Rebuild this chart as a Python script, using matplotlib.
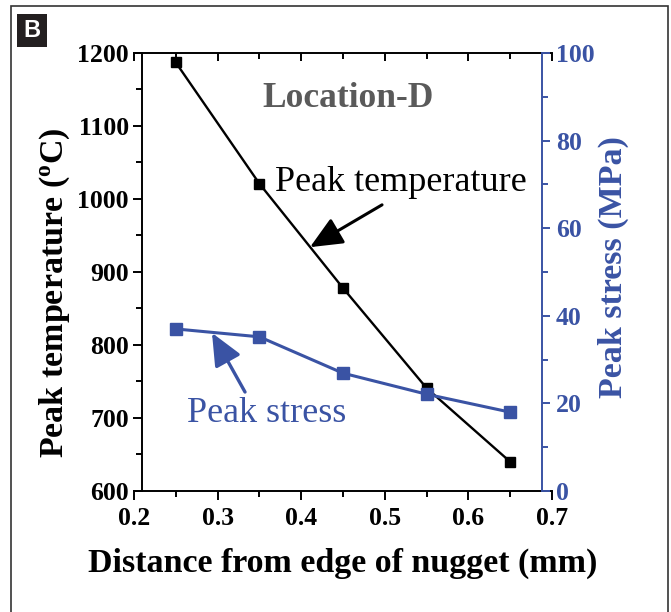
# Peak temperature / peak stress vs distance, Location-D
import numpy as np
import matplotlib.pyplot as plt
from matplotlib.patches import Rectangle
from matplotlib.ticker import MultipleLocator

# values
distance = [0.25, 0.35, 0.45, 0.55, 0.65]
peak_temp = [1187, 1021, 878, 741, 640]
peak_stress = [37.0, 35.2, 26.9, 22.1, 18.0]
x_ticks = [0.2, 0.3, 0.4, 0.5, 0.6, 0.7]

blue = '#3a53a4'
serif = 'Liberation Serif'

fig = plt.figure(figsize=(6.71, 6.12), dpi=100)

# axes box in pixels: x 134..552, y 53..491
W, H = 671, 612
ax = fig.add_axes([134 / W, (H - 491) / H, 418 / W, 438 / H])
ax2 = ax.twinx()

ax.plot(distance, peak_temp, '-s', color='black', lw=1.7, ms=6.5, zorder=3)
ax2.plot(distance, peak_stress, '-s', color=blue, lw=2.2, ms=8.5, zorder=3)

# Origin-style y axes sitting a little inside the x range
ax.spines['left'].set_position(('axes', 8 / 418))
ax.spines['right'].set_visible(False)
ax.spines['top'].set_visible(False)
for s in ['left', 'top', 'bottom']:
    ax2.spines[s].set_visible(False)
ax2.spines['right'].set_position(('axes', 408 / 418))
ax2.spines['right'].set_color(blue)
for s in ['left', 'bottom']:
    ax.spines[s].set_linewidth(1.4)
ax2.spines['right'].set_linewidth(1.4)

ax.set_xticks(x_ticks)
ax.set_xticklabels(['{:.1f}'.format(t) for t in x_ticks])
ax.xaxis.set_minor_locator(MultipleLocator(0.05))
ax.yaxis.set_major_locator(MultipleLocator(100))
ax.yaxis.set_minor_locator(MultipleLocator(50))
ax2.yaxis.set_major_locator(MultipleLocator(20))
ax2.yaxis.set_minor_locator(MultipleLocator(10))

ax.set_xlim(0.2, 0.7)
ax.set_ylim(600, 1200)
ax2.set_ylim(0, 100)

ax.tick_params(which='both', direction='out', width=1.4, labelsize=18.5, pad=3)
ax.tick_params(which='major', length=6.5)
ax.tick_params(which='minor', length=4)
ax.tick_params(axis='x', pad=5)
ax2.tick_params(which='both', direction='out', width=1.4, colors=blue, labelsize=18.5, pad=4)
ax2.tick_params(which='major', length=6)
ax2.tick_params(which='minor', length=4)

for lab in ax.get_xticklabels() + ax.get_yticklabels() + ax2.get_yticklabels():
    lab.set_fontfamily(serif)
    lab.set_fontweight('bold')

# top axis line with ticks pointing down into the plot
top = ax.secondary_xaxis('top')
top.set_xticks(x_ticks)
top.xaxis.set_minor_locator(MultipleLocator(0.05))
top.tick_params(which='both', direction='in', width=1.4, labeltop=False)
top.tick_params(which='major', length=6)
top.tick_params(which='minor', length=4)
top.spines['top'].set_linewidth(1.4)

ax.set_xlabel('Distance from edge of nugget (mm)', fontsize=24.5, fontweight='bold',
              fontfamily=serif, va='center')
ax.xaxis.set_label_coords(0.5, (491 - 563) / 438)
ax.set_ylabel('Peak temperature ($\\mathregular{^{o}}$C)', fontsize=24.5, fontweight='bold',
              fontfamily=serif, va='center')
ax.yaxis.set_label_coords((55 - 134) / 418, (491 - 293) / 438)
ax2.set_ylabel('Peak stress (MPa)', fontsize=24.5, fontweight='bold',
               fontfamily=serif, color=blue, va='center')
ax2.yaxis.set_label_coords((613 - 134) / 418, (491 - 267) / 438)

ax.text(0.456, 1138, 'Location-D', fontsize=25.5, fontweight='bold', fontfamily=serif,
        color='#5a5a5a', ha='center', va='center')

ax.text(0.519, 1023, 'Peak temperature', fontsize=26, fontfamily=serif,
        ha='center', va='center')
ax.annotate('', xy=(0.4105, 934), xytext=(0.4967, 992),
            arrowprops=dict(arrowstyle='-|>,head_length=0.9,head_width=0.4',
                            color='black', lw=2.2, mutation_scale=22, shrinkA=0, shrinkB=0))

ax2.text(0.359, 17.8, 'Peak stress', fontsize=26, fontfamily=serif, color=blue,
         ha='center', va='center')
ax2.annotate('', xy=(0.2933, 36.1), xytext=(0.3328, 22.6),
             arrowprops=dict(arrowstyle='-|>,head_length=0.9,head_width=0.4',
                             color=blue, lw=2.4, mutation_scale=22, shrinkA=0, shrinkB=0))

# panel frame and "B" tag
fig.patches.append(Rectangle((11 / W, -0.01), 657 / W, (H - 6) / H + 0.01,
                             transform=fig.transFigure, fill=False, ec='#333333', lw=1.2))
fig.patches.append(Rectangle((17 / W, (H - 47) / H), 30 / W, 33 / H,
                             transform=fig.transFigure, fc='#231f20', ec='none'))
fig.text(32 / W, (H - 30.5) / H, 'B', color='white', fontsize=17, fontweight='bold',
         fontfamily='Liberation Sans', ha='center', va='center')

fig.savefig('out.png', dpi=100)
